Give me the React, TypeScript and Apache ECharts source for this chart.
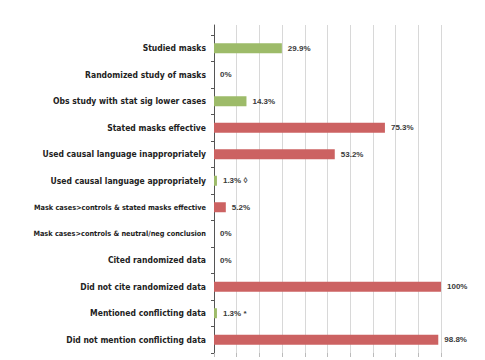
import React, { useEffect, useRef } from "react";
import * as echarts from "echarts";

const categories = [
  "Studied masks",
  "Randomized study of masks",
  "Obs study with stat sig lower cases",
  "Stated masks effective",
  "Used causal language inappropriately",
  "Used causal language appropriately",
  "Mask cases>controls & stated masks effective",
  "Mask cases>controls & neutral/neg conclusion",
  "Cited randomized data",
  "Did not cite randomized data",
  "Mentioned conflicting data",
  "Did not mention conflicting data",
];
const values = [29.9, 0, 14.3, 75.3, 53.2, 1.3, 5.2, 0, 0, 100, 1.3, 98.8];
const barColors = ["g", "g", "g", "r", "r", "g", "r", "g", "g", "r", "g", "r"];
const valueLabels = ["29.9%", "0%", "14.3%", "75.3%", "53.2%", "1.3% \u25CA", "5.2%", "0%", "0%", "100%", "1.3% *", "98.8%"];
const smallLabels = [6, 7];

const GREEN = "#9dbb69";
const RED = "#cc6262";
const LABEL_FONT = "DejaVu Sans Condensed";

export default function App() {
  const ref = useRef<HTMLDivElement>(null);
  useEffect(() => {
    const chart = echarts.init(ref.current!, null, { renderer: "svg" });
    chart.setOption({
      animation: false,
      backgroundColor: "#ffffff",
      grid: [
        { left: 214, right: 44, top: 35, bottom: 7, containLabel: false },
        { left: 214, right: 44, top: 25, height: 10, containLabel: false },
      ],
      xAxis: [
        {
          type: "value",
          min: 0,
          max: 100,
          interval: 10,
          axisLine: { show: false },
          axisTick: { show: true, length: 4, lineStyle: { color: "#bbb" } },
          axisLabel: { show: false },
          splitLine: { show: true, lineStyle: { color: "#d8d8d8", width: 1 } },
        },
        {
          type: "value",
          gridIndex: 1,
          min: 0,
          max: 100,
          interval: 10,
          axisLine: { show: false },
          axisTick: { show: false },
          axisLabel: { show: false },
          splitLine: { show: true, lineStyle: { color: "#d8d8d8", width: 1 } },
        },
      ],
      yAxis: [
        {
          type: "category",
          inverse: true,
          data: categories,
          axisLine: { show: true, lineStyle: { color: "#555", width: 1 } },
          axisTick: { show: true, length: 3, lineStyle: { color: "#555" } },
          axisLabel: {
            margin: 8,
            color: "#222",
            fontFamily: LABEL_FONT,
            fontWeight: "bold",
            fontSize: 8.5,
            formatter: (v: string, i: number) =>
              smallLabels.includes(i) ? `{s|${v}}` : v,
            rich: {
              s: {
                fontFamily: LABEL_FONT,
                fontWeight: "bold",
                fontSize: 7.3,
                color: "#222",
              },
            },
          },
        },
        {
          type: "value",
          gridIndex: 1,
          min: 0,
          max: 1,
          axisLine: { show: true, lineStyle: { color: "#555", width: 1 } },
          axisTick: { show: false },
          axisLabel: { show: false },
          splitLine: { show: false },
        },
      ],
      series: [
        {
          type: "bar",
          barWidth: 10,
          data: values.map((v, i) => ({
            value: v,
            itemStyle: { color: barColors[i] === "g" ? GREEN : RED },
          })),
          label: {
            show: true,
            position: "right",
            distance: 6,
            color: "#3a3a3a",
            fontFamily: "Liberation Sans",
            fontWeight: "bold",
            fontSize: 8,
            formatter: (p: any) => valueLabels[p.dataIndex],
          },
        },
      ],
    });
    return () => chart.dispose();
  }, []);
  return <div ref={ref} style={{ width: 485, height: 360, position: "absolute", left: 0, top: 0 }} />;
}
